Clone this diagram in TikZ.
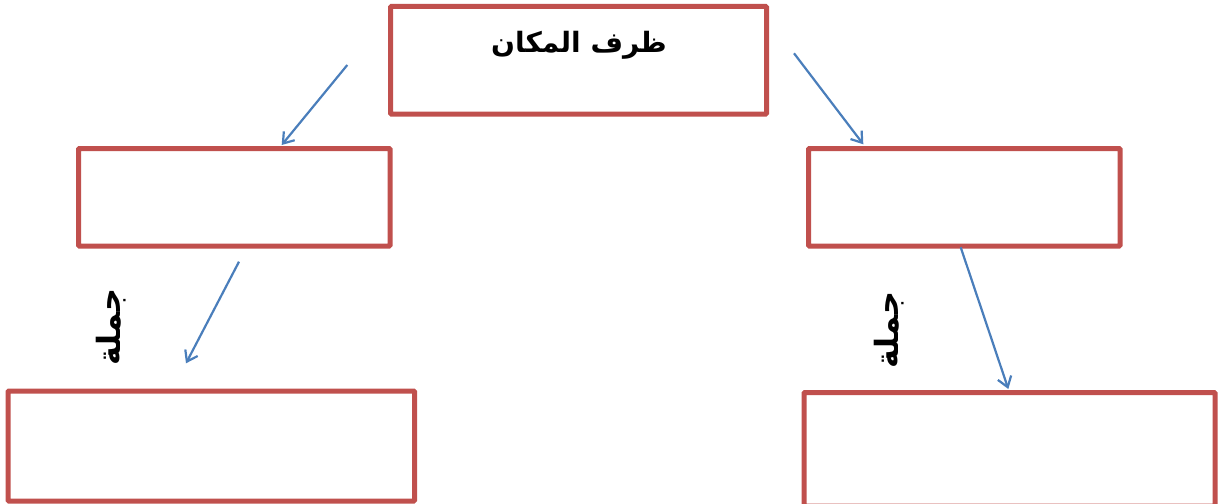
\documentclass[tikz,border=0pt]{standalone}
\usepackage{fontspec}
\newfontfamily\arabicfont[Script=Arabic]{DejaVu Sans}
\TeXXeTstate=1
\usetikzlibrary{arrows.meta,calc}
\definecolor{boxred}{HTML}{C0504D}
\definecolor{arrblue}{HTML}{4A7EBB}
\begin{document}
\begin{tikzpicture}[x=1pt,y=-1pt,
  box/.style={draw=boxred,line width=5pt,rectangle,inner sep=0pt,outer sep=0pt,rounded corners=1pt},
  arr/.style={draw=arrblue,line width=2.2pt,-{Straight Barb[length=10pt,width=14pt]}},
  title/.style={font=\arabicfont\bfseries\fontsize{28}{32}\selectfont,inner sep=0pt},
  lbl/.style={font=\arabicfont\bfseries\fontsize{32}{36}\selectfont,inner sep=0pt,rotate=90}]
\useasboundingbox (0,0) rectangle (1222,503);
\node[box,minimum width=376pt,minimum height=107.5pt] (top) at (578.5,60.25) {};
\node[box,minimum width=311.5pt,minimum height=97.5pt] (ML) at (234.25,197.25) {};
\node[box,minimum width=311.5pt,minimum height=97.5pt] (MR) at (964.25,197.25) {};
\node[box,minimum width=406.5pt,minimum height=110pt] (BL) at (211.25,446) {};
\node[box,minimum width=411pt,minimum height=113.5pt] (BR) at (1009.5,449.25) {};
\node[title] (t) at (579,45) {\beginR ظرف المكان\endR};
\node[lbl] (j1) at (111,327) {\beginR جملة\endR};
\node[lbl] (j2) at (889,330) {\beginR جملة\endR};
\coordinate (a1s) at (347.3,65);
\coordinate (a2s) at (794,53.3);
\coordinate (a3s) at (239,261.7);
\coordinate (a3e) at (186,363.3);
\draw[arr] (a1s) -- ($(ML.north west)+(203.2,-3.5)$);
\draw[arr] (a2s) -- ($(MR.north west)+(54.8,-4.2)$);
\draw[arr] (a3s) -- (a3e);
\draw[arr] ($(MR.south west)+(152.2,1.3)$) -- ($(BR.north west)+(204.3,-3.5)$);
\end{tikzpicture}
\end{document}
